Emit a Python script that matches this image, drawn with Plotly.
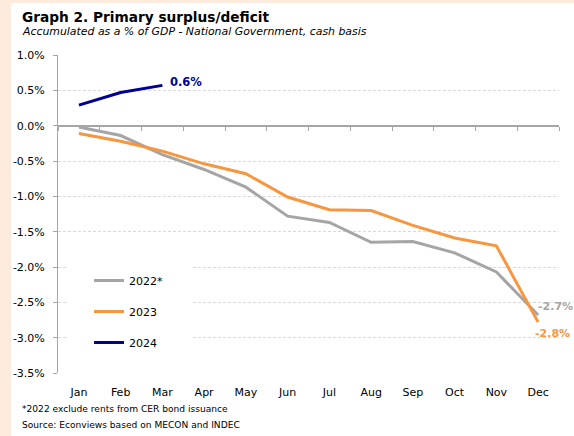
import plotly.graph_objects as go

# --- data -------------------------------------------------------------
months = ["Jan", "Feb", "Mar", "Apr", "May", "Jun",
          "Jul", "Aug", "Sep", "Oct", "Nov", "Dec"]
y2022 = [-0.02, -0.14, -0.41, -0.62, -0.87, -1.28,
         -1.37, -1.65, -1.64, -1.80, -2.07, -2.68]
y2023 = [-0.11, -0.22, -0.36, -0.54, -0.68, -1.01,
         -1.19, -1.20, -1.41, -1.59, -1.70, -2.78]
y2024 = [0.29, 0.47, 0.57]
y_ticks = [1.0, 0.5, 0.0, -0.5, -1.0, -1.5, -2.0, -2.5, -3.0, -3.5]

# --- canvas geometry (pixels) ----------------------------------------
W, H = 574, 436
ML, MR, MT, MB = 58, 15, 55, 63
PW, PH = W - ML - MR, H - MT - MB


def px(xp):
    return (xp - ML) / PW


def py(yp):
    return (H - MB - yp) / PH


FONT = "DejaVu Sans"
GRAY = "#A5A5A5"
ORANGE = "#F7963F"
NAVY = "#000096"
AXIS = "#A6A6A6"

fig = go.Figure()

fig.add_trace(go.Scatter(x=months, y=y2022, name="2022*", mode="lines",
                         line=dict(color=GRAY, width=3), legendgroup="a"))
fig.add_trace(go.Scatter(x=months, y=y2023, name="2023", mode="lines",
                         line=dict(color=ORANGE, width=3), legendgroup="b"))
fig.add_trace(go.Scatter(x=months[:len(y2024)], y=y2024, name="2024", mode="lines",
                         line=dict(color=NAVY, width=3), legendgroup="c"))
# helper trace so the zero-line axis knows its categories
fig.add_trace(go.Scatter(x=months, y=[None] * len(months), xaxis="x2",
                         mode="lines", showlegend=False, hoverinfo="skip"))

# end-of-series value labels
fig.add_annotation(x=months[len(y2024) - 1], y=y2024[-1], xref="x", yref="y",
                   text=f"{y2024[-1]:.1f}%", showarrow=False, xanchor="left",
                   xshift=6, yshift=3,
                   font=dict(family=FONT, size=11.5, color=NAVY, weight="bold"))
fig.add_annotation(x=months[-1], y=y2022[-1], xref="x", yref="y",
                   text=f"{y2022[-1]:.1f}%", showarrow=False, xanchor="left",
                   xshift=-2, yshift=9,
                   font=dict(family=FONT, size=11, color=GRAY, weight="bold"))
fig.add_annotation(x=months[-1], y=y2023[-1], xref="x", yref="y",
                   text=f"{y2023[-1]:.1f}%", showarrow=False, xanchor="left",
                   xshift=-5, yshift=-11,
                   font=dict(family=FONT, size=11, color=ORANGE, weight="bold"))

# titles and footnotes
fig.add_annotation(x=px(20), y=py(17), xref="paper", yref="paper",
                   text="<b>Graph 2. Primary surplus/deficit</b>", showarrow=False,
                   xanchor="left", yanchor="middle",
                   font=dict(family=FONT, size=13.7, color="#000000"))
fig.add_annotation(x=px(20), y=py(31), xref="paper", yref="paper",
                   text="<i>Accumulated as a % of GDP - National Government, cash basis</i>",
                   showarrow=False, xanchor="left", yanchor="middle",
                   font=dict(family=FONT, size=10.9, color="#000000"))
fig.add_annotation(x=px(20), y=py(409), xref="paper", yref="paper",
                   text="*2022 exclude rents from CER bond issuance", showarrow=False,
                   xanchor="left", yanchor="middle",
                   font=dict(family=FONT, size=9.1, color="#000000"))
fig.add_annotation(x=px(20), y=py(425), xref="paper", yref="paper",
                   text="Source: Econviews based on MECON and INDEC", showarrow=False,
                   xanchor="left", yanchor="middle",
                   font=dict(family=FONT, size=9.1, color="#000000"))

# white card over the peach page, and a white patch behind the legend
fig.add_shape(type="rect", xref="paper", yref="paper", layer="below",
              x0=px(11), x1=px(W + 2), y0=py(3), y1=py(H + 2),
              fillcolor="white", line=dict(width=0))
fig.add_shape(type="rect", xref="paper", yref="paper", layer="above",
              x0=px(67), x1=px(193), y0=py(262), y1=py(356),
              fillcolor="white", line=dict(width=0))

fig.update_layout(
    width=W, height=H,
    margin=dict(l=ML, r=MR, t=MT, b=MB, pad=0),
    paper_bgcolor="#FDEBDD",
    plot_bgcolor="rgba(0,0,0,0)",
    font=dict(family=FONT, size=11, color="#000000"),
    showlegend=True,
    legend=dict(x=px(89), y=py(266), xanchor="left", yanchor="top",
                bgcolor="rgba(0,0,0,0)", borderwidth=0,
                traceorder="grouped", tracegroupgap=12,
                font=dict(family=FONT, size=11, color="#000000")),
    xaxis=dict(type="category", categoryorder="array", categoryarray=months,
               range=[-0.5, len(months) - 0.5], showgrid=False, showline=False,
               ticks="", zeroline=False, ticklabelstandoff=11,
               tickfont=dict(family=FONT, size=11)),
    xaxis2=dict(type="category", categoryorder="array", categoryarray=months,
                range=[-0.5, len(months) - 0.5], overlaying="x", anchor="free",
                position=(0 - y_ticks[-1]) / (y_ticks[0] - y_ticks[-1]),
                showline=True, linecolor=AXIS, linewidth=2,
                ticks="outside", ticklen=4, tickcolor=AXIS, tickwidth=1,
                tickson="boundaries", showticklabels=False, showgrid=False,
                zeroline=False),
    yaxis=dict(range=[y_ticks[-1], y_ticks[0]], tickvals=y_ticks,
               ticktext=[f"{v:.1f}%" for v in y_ticks],
               showgrid=True, gridcolor="#D9D9D9", gridwidth=1, griddash="3px,2px",
               zeroline=False, showline=True, linecolor=AXIS, linewidth=1,
               ticks="outside", ticklen=4, tickcolor=AXIS,
               ticklabelstandoff=6, tickfont=dict(family=FONT, size=11)),
)

fig.write_html("out.html")
